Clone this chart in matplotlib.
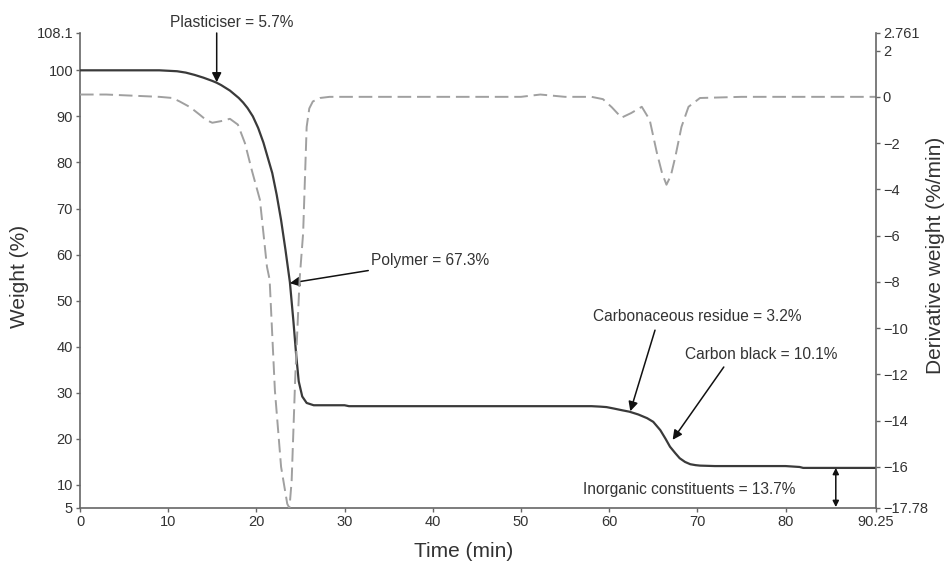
import matplotlib
matplotlib.use("Agg")
import matplotlib.pyplot as plt

plt.rcParams['font.family'] = ['Liberation Sans', 'DejaVu Sans']

# Thermogravimetric curve: time (min) vs residual weight (%)
time_w = [0, 5, 9, 11, 12, 13, 14, 15, 15.5, 16, 17, 18, 18.5, 19, 19.6, 20.2,
          20.8, 21.3, 21.8, 22.3, 22.8, 23.3, 23.8, 24.2, 24.5, 24.8, 25.2,
          25.7, 26.5, 30, 30.5, 40, 50, 58, 59, 59.7, 60.5, 61.5, 62.3, 63.3,
          64.3, 65, 65.8, 66.4, 66.9, 67.5, 68, 68.6, 69.2, 69.8, 70.3, 72,
          80, 81.6, 82, 90.25]
weight = [100, 100, 100, 99.8, 99.5, 99.0, 98.4, 97.7, 97.3, 96.8, 95.6, 94.0,
          93.0, 91.8, 90.0, 87.5, 84.3, 81.0, 77.7, 73.0, 67.5, 61.0, 54.0,
          45.5, 38.5, 32.5, 29.2, 27.8, 27.3, 27.3, 27.1, 27.1, 27.1, 27.1,
          27.0, 26.9, 26.6, 26.2, 25.9, 25.3, 24.5, 23.7, 21.9, 20.0, 18.3,
          16.9, 15.8, 15.0, 14.5, 14.3, 14.2, 14.1, 14.1, 13.9, 13.7, 13.7]

# Derivative weight curve (%/min)
time_d = [0, 3, 6, 9, 10.5, 11.3, 12.5, 13.6, 14.3, 15, 16, 17, 17.9, 18.7,
          19.5, 20.4, 21.2, 21.5, 22.1, 22.8, 23.5, 23.75, 24, 24.4, 24.9,
          25.3, 25.7, 26.0, 26.4, 27.2, 28.3, 35, 45, 50, 52.2, 55, 58, 59.3,
          60.3, 61.4, 62.5, 63.7, 64.6, 65.4, 66, 66.5, 67, 67.5, 68.2, 69,
          70.3, 75, 85, 90.25]
deriv = [0.1, 0.1, 0.05, 0.0, -0.05, -0.2, -0.45, -0.78, -1.0, -1.12, -1.05,
         -0.95, -1.2, -2.0, -3.2, -4.45, -7.35, -7.9, -12.7, -16.0, -17.6,
         -17.78, -16.6, -12.2, -7.9, -5.9, -1.3, -0.5, -0.2, -0.05, 0.0, 0.0,
         0.0, 0.0, 0.1, 0.0, 0.0, -0.1, -0.45, -0.9, -0.7, -0.43, -1.0, -2.4,
         -3.3, -3.8, -3.4, -2.6, -1.3, -0.43, -0.05, 0.0, 0.0, 0.0]

x_ticks = [0, 10, 20, 30, 40, 50, 60, 70, 80, 90.25]
x_labels = ['0', '10', '20', '30', '40', '50', '60', '70', '80', '90.25']
w_ticks = [5, 10, 20, 30, 40, 50, 60, 70, 80, 90, 100, 108.1]
w_labels = ['5', '10', '20', '30', '40', '50', '60', '70', '80', '90', '100', '108.1']
d_ticks = [-17.78, -16, -14, -12, -10, -8, -6, -4, -2, 0, 2, 2.761]
d_labels = ['\u221217.78', '\u221216', '\u221214', '\u221212', '\u221210', '\u22128',
            '\u22126', '\u22124', '\u22122', '0', '2', '2.761']

axis_col = '#666666'
text_col = '#333333'

fig = plt.figure(figsize=(9.49, 5.65), dpi=100)
ax = fig.add_axes([0.0843, 0.1009, 0.8387, 0.8407])
ax2 = ax.twinx()

ax.plot(time_w, weight, color='#3a3a3a', lw=1.6, zorder=3)
ax2.plot(time_d, deriv, color='#a0a0a0', lw=1.4, dashes=(7, 3), zorder=2)

ax.set_xlim(0, 90.25)
ax.set_ylim(5, 108.1)
ax2.set_ylim(-17.78, 2.761)

ax.set_xticks(x_ticks)
ax.set_xticklabels(x_labels)
ax.set_yticks(w_ticks)
ax.set_yticklabels(w_labels)
ax2.set_yticks(d_ticks)
ax2.set_yticklabels(d_labels)

for a in (ax, ax2):
    a.spines['top'].set_visible(False)
    for s in ('left', 'right', 'bottom'):
        a.spines[s].set_color(axis_col)
        a.spines[s].set_linewidth(1.2)
    a.tick_params(colors=axis_col, labelcolor=text_col, labelsize=10.5,
                  length=3, width=1, pad=2)
ax.spines['right'].set_visible(False)
ax2.spines['left'].set_visible(False)
ax2.spines['bottom'].set_visible(False)

ax.set_xlabel('Time (min)', fontsize=15, color=text_col)
ax.set_ylabel('Weight (%)', fontsize=15, color=text_col)
ax2.set_ylabel('Derivative weight (%/min)', fontsize=15, color=text_col,
               rotation=90)
ax.xaxis.set_label_coords(0.482, -0.072)
ax.yaxis.set_label_coords(-0.064, 0.488)
ax2.yaxis.set_label_coords(1.063, 0.531)

arrow = dict(arrowstyle='-|>', color='#111111', lw=1.1, mutation_scale=14,
             shrinkA=0, shrinkB=0)
fs = 11.2

# Plasticiser loss
ax.text(10.2, 110.4, 'Plasticiser = 5.7%', ha='left', va='center',
        fontsize=fs, color=text_col, clip_on=False)
ax.annotate('', xy=(15.5, 97.4), xytext=(15.5, 108.1),
            arrowprops=arrow, annotation_clip=False)

# Polymer loss
ax.annotate('Polymer = 67.3%', xy=(23.8, 53.8), xytext=(33.0, 58.7),
            ha='left', va='center', fontsize=fs, color=text_col,
            arrowprops=arrow)

# Carbonaceous residue and carbon black
ax.text(58.2, 46.6, 'Carbonaceous residue = 3.2%', ha='left', va='center',
        fontsize=fs, color=text_col)
ax.annotate('', xy=(62.4, 26.0), xytext=(65.2, 43.6), arrowprops=arrow)
ax.text(68.6, 38.4, 'Carbon black = 10.1%', ha='left', va='center',
        fontsize=fs, color=text_col)
ax.annotate('', xy=(67.2, 19.8), xytext=(73.0, 35.6), arrowprops=arrow)

# Inorganic residue
ax.text(57.0, 9.0, 'Inorganic constituents = 13.7%', ha='left', va='center',
        fontsize=fs, color=text_col)
ax.annotate('', xy=(85.7, 13.7), xytext=(85.7, 5.2),
            arrowprops=dict(arrowstyle='<|-|>', color='#111111', lw=1.1,
                            mutation_scale=9, shrinkA=0, shrinkB=0))

fig.savefig('out.png', dpi=100)
